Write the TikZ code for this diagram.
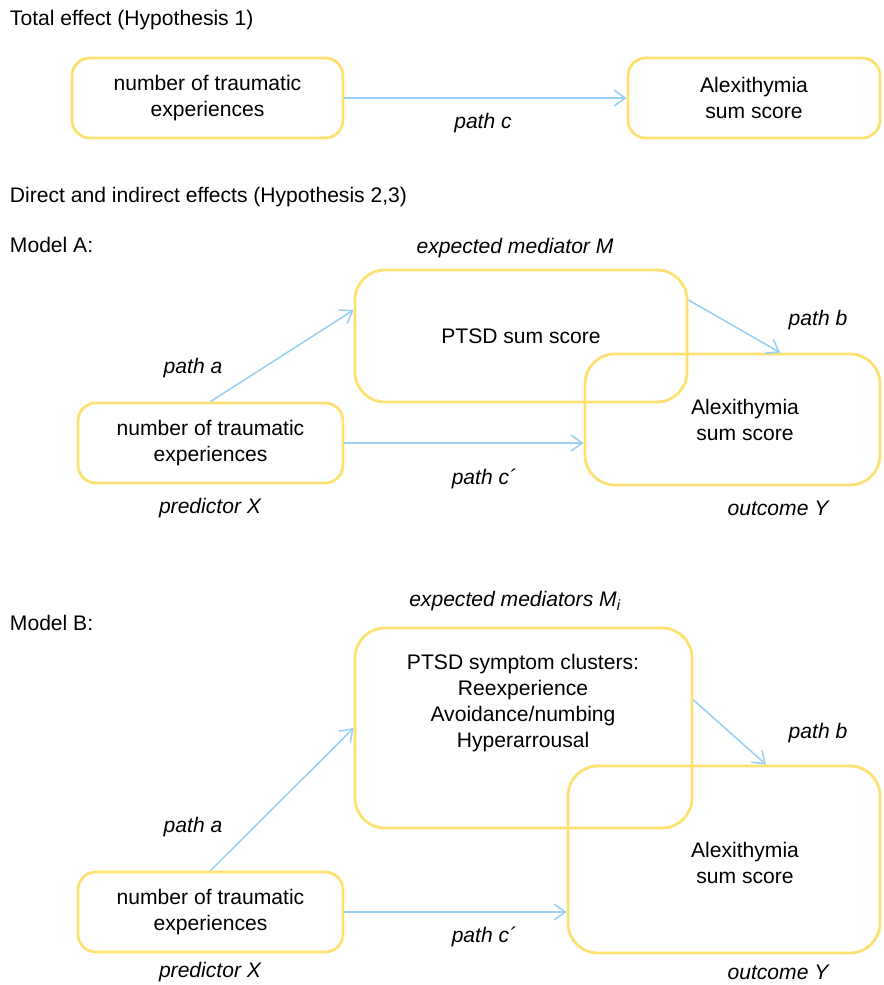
\documentclass[tikz,border=0pt]{standalone}
\usepackage{fontspec}
\setmainfont{Liberation Sans}
\usetikzlibrary{arrows.meta}
\definecolor{boxyellow}{RGB}{253, 225, 115}
\definecolor{arrowblue}{RGB}{155, 208, 245}

\begin{document}
\begin{tikzpicture}[x=0.025cm, y=-0.025cm,
    every node/.style={font=\fontsize{15}{18.4}\selectfont, align=center},
    box/.style={draw=boxyellow, line width=2pt, rounded corners=0.45cm, inner sep=0pt},
    bigbox/.style={box, rounded corners=0.75cm},
    lbl/.style={font=\fontsize{15}{18.4}\selectfont\itshape},
    patharrow/.style={-{Straight Barb[length=2.8mm, width=4mm]}, draw=arrowblue, line width=1.1pt}]
    \useasboundingbox (0,0) rectangle (883,985);

    % Total effect
    \node[anchor=west] (ttlTot) at (5,20) {Total effect (Hypothesis 1)};
    \node[box, minimum width=6.775cm, minimum height=2cm] (totX) at (207.5,98) {number of traumatic\\experiences};
    \node[box, minimum width=6.3cm, minimum height=2cm] (totY) at (754,98) {Alexithymia\\sum score};
    \draw[patharrow] (totX) -- (totY);
    \node[lbl] (pathC) at (483,123) {path c};

    % Model A
    \node[anchor=west] (ttlDir) at (5,197) {Direct and indirect effects (Hypothesis 2,3)};
    \node[anchor=west] (modA) at (5,245) {Model A:};
    \node[lbl] (medAlbl) at (515,248) {expected mediator M};
    \node[bigbox, minimum width=8.3cm, minimum height=3.3cm] (medA) at (521,336) {PTSD sum score};
    \node[bigbox, minimum width=7.375cm, minimum height=3.275cm] (outA) at (732.5,419.5) {};
    \node (outAtxt) at (745,420) {Alexithymia\\sum score};
    \node[box, minimum width=6.625cm, minimum height=2cm] (prdA) at (210.5,443) {number of traumatic\\experiences};
    \draw[patharrow] (prdA.north) -- ([yshift=0.65cm]medA.west);
    \draw[patharrow] ([yshift=0.9cm]medA.east) -- ([xshift=1.19cm]outA.north);
    \draw[patharrow] (prdA.east) -- (prdA.east -| outA.west);
    \node[lbl] (pathAa) at (193,368) {path a};
    \node[lbl] (pathAb) at (818,320) {path b};
    \node[lbl] (pathAc) at (484,479) {path c´};
    \node[lbl] (prdAlbl) at (210,508) {predictor X};
    \node[lbl] (outAlbl) at (778,508) {outcome Y};

    % Model B
    \node[anchor=west] (modB) at (5,623) {Model B:};
    \node[lbl] (medBlbl) at (515,601) {expected mediators M\textsubscript{i}};
    \node[bigbox, minimum width=8.425cm, minimum height=5cm] (medB) at (523.5,728) {};
    \node (medBtxt) at (523,703) {PTSD symptom clusters:\\Reexperience\\Avoidance/numbing\\Hyperarrousal};
    \node[bigbox, minimum width=7.8cm, minimum height=4.675cm] (outB) at (724,859.5) {};
    \node (outBtxt) at (745,863) {Alexithymia\\sum score};
    \node[box, minimum width=6.625cm, minimum height=2cm] (prdB) at (210.5,912) {number of traumatic\\experiences};
    \draw[patharrow] (prdB.north) -- (medB.west);
    \draw[patharrow] ([yshift=0.7cm]medB.east) -- ([xshift=1.05cm]outB.north);
    \draw[patharrow] (prdB.east) -- (prdB.east -| outB.west);
    \node[lbl] (pathBa) at (193,827) {path a};
    \node[lbl] (pathBb) at (818,733) {path b};
    \node[lbl] (pathBc) at (484,937) {path c´};
    \node[lbl] (prdBlbl) at (210,972) {predictor X};
    \node[lbl] (outBlbl) at (778,972) {outcome Y};
\end{tikzpicture}
\end{document}
